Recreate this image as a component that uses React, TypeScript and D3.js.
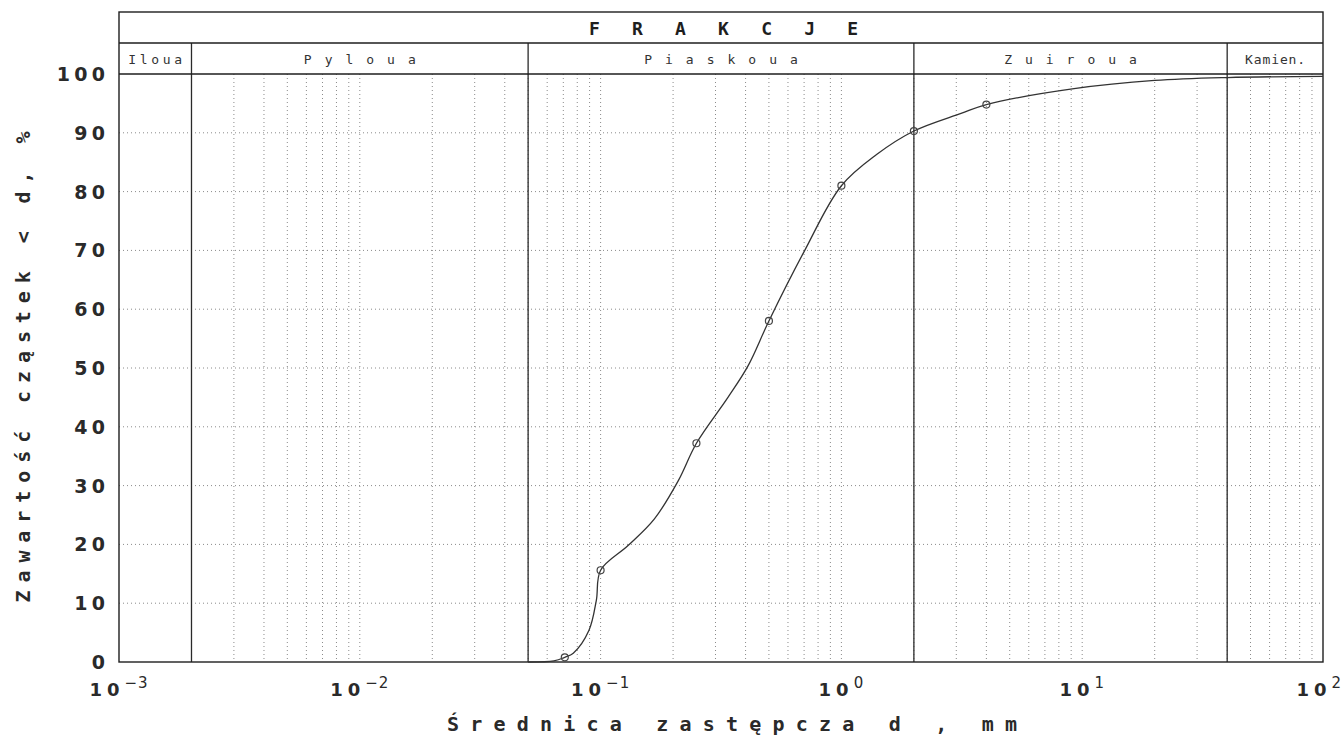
import React from "react";
import * as d3 from "d3";

// sieve analysis: measured points (mm, % passing)
const sieveSizes = [0.071, 0.1, 0.25, 0.5, 1, 2, 4];
const sievePassing = [0.8, 15.6, 37.2, 58, 81, 90.3, 94.8];

// drawn grading curve
const curveSizes = [0.05, 0.064, 0.071, 0.077, 0.0895, 0.096, 0.1, 0.13, 0.167, 0.21, 0.25, 0.338, 0.41, 0.5, 0.7, 1, 1.4, 2, 3.14, 4, 9.25, 20, 40, 100];
const curvePassing = [0, 0.2, 0.8, 1.5, 5.4, 10.5, 15.6, 19.8, 24.3, 30.8, 37.2, 45, 50.4, 58, 69.8, 81, 86.3, 90.3, 93.3, 94.8, 97.5, 98.9, 99.4, 99.6];

const yTicks = [0, 10, 20, 30, 40, 50, 60, 70, 80, 90, 100];
const xDecades = [-3, -2, -1, 0, 1, 2];

const headerTitle = "FRAKCJE";
const fractionNames = ["Iloua", "Pyloua", "Piaskoua", "Zuiroua", "Kamien."];
const fractionBounds = [0.002, 0.05, 2, 40];
const fractionSpacing = [3.7, 13, 13, 13, 0.9];

const yTitle = "Zawartość cząstek < d, %";
const xTitle = "Średnica zastępcza  d ,  mm";

const W = 1344;
const H = 736;
const HEAD_TOP = 12;
const HEAD_MID = 43;
const mono = "'DejaVu Sans Mono', monospace";
const sans = "'DejaVu Sans', sans-serif";

export default function App() {
  const x = d3.scaleLog().domain([1e-3, 1e2]).range([119, 1323]);
  const y = d3.scaleLinear().domain([0, 100]).range([662, 74]);
  const [x0, x1] = x.range();
  const [yB, yT] = y.range();

  const minor = x.ticks().filter((v) => v > 1.0001e-3 && v < 0.9999e2);
  const line = d3
    .line<[number, number]>()
    .x((d) => x(d[0]))
    .y((d) => y(d[1]))
    .curve(d3.curveCatmullRom.alpha(0.5));
  const curvePts: [number, number][] = curveSizes.map((d, i) => [d, curvePassing[i]]);
  const cells = [1e-3, ...fractionBounds, 1e2];

  return (
    <svg
      width={W}
      height={H}
      style={{ position: "absolute", left: 0, top: 0, background: "#fff" }}
    >
      {/* dotted grid */}
      <g stroke="#8a8a8a" strokeWidth={1} strokeDasharray="1,3">
        {minor.map((v, i) => (
          <line key={"v" + i} x1={x(v)} x2={x(v)} y1={yT} y2={yB} />
        ))}
        {yTicks
          .filter((t) => t > 0 && t < 100)
          .map((t) => (
            <line key={"h" + t} x1={x0} x2={x1} y1={y(t)} y2={y(t)} />
          ))}
      </g>

      {/* fraction boundaries */}
      <g stroke="#2a2a2a" strokeWidth={1.3}>
        {fractionBounds.map((b) => (
          <line key={b} x1={x(b)} x2={x(b)} y1={HEAD_MID} y2={yB} />
        ))}
      </g>

      {/* frame + header box */}
      <g stroke="#1e1e1e" strokeWidth={1.4} fill="none">
        <rect x={x0} y={HEAD_TOP} width={x1 - x0} height={yB - HEAD_TOP} />
        <line x1={x0} x2={x1} y1={HEAD_MID} y2={HEAD_MID} />
        <line x1={x0} x2={x1} y1={yT} y2={yT} />
      </g>

      <text
        x={589}
        y={35}
        fontFamily={mono}
        fontWeight="bold"
        fontSize={18}
        letterSpacing={32.2}
        fill="#1e1e1e"
      >
        {headerTitle}
      </text>

      {fractionNames.map((n, i) => (
        <text
          key={n}
          x={(x(cells[i]) + x(cells[i + 1])) / 2 + fractionSpacing[i] / 2}
          y={64}
          textAnchor="middle"
          fontFamily={mono}
          fontSize={13}
          letterSpacing={fractionSpacing[i]}
          fill="#333"
        >
          {n}
        </text>
      ))}

      {/* grading curve */}
      <path d={line(curvePts) ?? ""} fill="none" stroke="#333" strokeWidth={1.3} />
      {sieveSizes.map((d, i) => (
        <circle
          key={d}
          cx={x(d)}
          cy={y(sievePassing[i])}
          r={3.5}
          fill="none"
          stroke="#444"
          strokeWidth={1.2}
        />
      ))}

      {/* y axis labels */}
      {yTicks.map((t) => (
        <text
          key={t}
          x={105 + 4.3}
          y={y(t) + 7}
          textAnchor="end"
          fontFamily={sans}
          fontWeight="bold"
          fontSize={19}
          letterSpacing={4.3}
          fill="#2a2a2a"
        >
          {t}
        </text>
      ))}

      {/* x axis labels */}
      {xDecades.map((k, i) => {
        const last = i === xDecades.length - 1;
        return (
          <text
            key={k}
            x={last ? W - 3 : x(Math.pow(10, k))}
            y={696}
            textAnchor={last ? "end" : "middle"}
            fill="#2a2a2a"
          >
            <tspan fontFamily={sans} fontWeight="bold" fontSize={18} letterSpacing={5}>
              10
            </tspan>
            <tspan fontFamily={sans} fontSize={15} dy={-8} letterSpacing={last ? 0 : 1}>
              {String(k).replace("-", "\u2212")}
            </tspan>
          </text>
        );
      })}

      {/* axis titles */}
      <text
        transform={`translate(30, 367) rotate(-90)`}
        textAnchor="middle"
        fontFamily={mono}
        fontWeight="bold"
        fontSize={20}
        textLength={471}
        lengthAdjust="spacing"
        fill="#2a2a2a"
      >
        {yTitle}
      </text>
      <text
        x={447}
        y={731}
        fontFamily={mono}
        fontWeight="bold"
        fontSize={20}
        textLength={570}
        lengthAdjust="spacing"
        fill="#2a2a2a"
      >
        {xTitle}
      </text>
    </svg>
  );
}
